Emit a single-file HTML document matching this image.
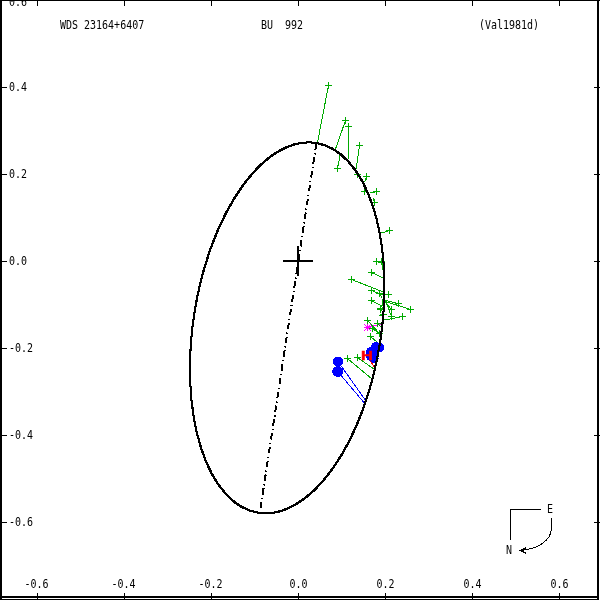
<!DOCTYPE html>
<html lang="en"><head><meta charset="utf-8"><title>WDS 23164+6407 BU 992 orbit</title>
<style>html,body{margin:0;padding:0;background:#fff;overflow:hidden}svg{display:block;will-change:transform}text{font-family:"DejaVu Sans Mono","Liberation Mono",monospace;font-size:10px;fill:#000}</style>
</head><body>
<svg width="600" height="600" viewBox="0 0 600 600" shape-rendering="crispEdges">
<rect x="0" y="0" width="600" height="600" fill="#fff"/>
<g fill="#000">
<rect x="0" y="0" width="2" height="600"/>
<rect x="597" y="0" width="2" height="600"/>
<rect x="0" y="0" width="600" height="1"/>
<rect x="0" y="596" width="599" height="2"/>
<rect x="0" y="599" width="599" height="1"/>
<rect x="37" y="593" width="1" height="7"/>
<rect x="37" y="0" width="1" height="6"/>
<rect x="124" y="593" width="1" height="7"/>
<rect x="124" y="0" width="1" height="6"/>
<rect x="211" y="593" width="1" height="7"/>
<rect x="211" y="0" width="1" height="6"/>
<rect x="298" y="593" width="1" height="7"/>
<rect x="298" y="0" width="1" height="6"/>
<rect x="385" y="593" width="1" height="7"/>
<rect x="385" y="0" width="1" height="6"/>
<rect x="472" y="593" width="1" height="7"/>
<rect x="472" y="0" width="1" height="6"/>
<rect x="559" y="593" width="1" height="7"/>
<rect x="559" y="0" width="1" height="6"/>
<rect x="2" y="87" width="5" height="1"/>
<rect x="594" y="87" width="6" height="1"/>
<rect x="2" y="174" width="5" height="1"/>
<rect x="594" y="174" width="6" height="1"/>
<rect x="2" y="261" width="5" height="1"/>
<rect x="594" y="261" width="6" height="1"/>
<rect x="2" y="348" width="5" height="1"/>
<rect x="594" y="348" width="6" height="1"/>
<rect x="2" y="435" width="5" height="1"/>
<rect x="594" y="435" width="6" height="1"/>
<rect x="2" y="522" width="5" height="1"/>
<rect x="594" y="522" width="6" height="1"/>
</g>
<text transform="translate(60,29) scale(1,1.24)" text-anchor="start" xml:space="preserve">WDS 23164+6407</text>
<text transform="translate(261,29) scale(1,1.24)" text-anchor="start" xml:space="preserve">BU  992</text>
<text transform="translate(479,29) scale(1,1.24)" text-anchor="start" xml:space="preserve">(Val1981d)</text>
<text transform="translate(24.5,588) scale(1,1.24)" text-anchor="start" xml:space="preserve">-0.6</text>
<text transform="translate(111.5,588) scale(1,1.24)" text-anchor="start" xml:space="preserve">-0.4</text>
<text transform="translate(198.5,588) scale(1,1.24)" text-anchor="start" xml:space="preserve">-0.2</text>
<text transform="translate(289.5,588) scale(1,1.24)" text-anchor="start" xml:space="preserve">0.0</text>
<text transform="translate(376.5,588) scale(1,1.24)" text-anchor="start" xml:space="preserve">0.2</text>
<text transform="translate(463.5,588) scale(1,1.24)" text-anchor="start" xml:space="preserve">0.4</text>
<text transform="translate(550.5,588) scale(1,1.24)" text-anchor="start" xml:space="preserve">0.6</text>
<text transform="translate(9,91) scale(1,1.24)" text-anchor="start" xml:space="preserve">0.4</text>
<text transform="translate(9,178) scale(1,1.24)" text-anchor="start" xml:space="preserve">0.2</text>
<text transform="translate(9,265) scale(1,1.24)" text-anchor="start" xml:space="preserve">0.0</text>
<text transform="translate(9,352) scale(1,1.24)" text-anchor="start" xml:space="preserve">-0.2</text>
<text transform="translate(9,439) scale(1,1.24)" text-anchor="start" xml:space="preserve">-0.4</text>
<text transform="translate(9,526) scale(1,1.24)" text-anchor="start" xml:space="preserve">-0.6</text>
<text transform="translate(9,6) scale(1,1.24)" text-anchor="start" xml:space="preserve">0.6</text>
<line x1="316.3" y1="143.5" x2="260.3" y2="509.5" stroke="#000" stroke-width="2" stroke-dasharray="6.5 3.45 1.2 2.8"/>
<rect x="283" y="260" width="30" height="2" fill="#000"/>
<rect x="297" y="246" width="2" height="30" fill="#000"/>
<path d="M364 327.5h7M367.5 324v7M364 324l7 7M371 324l-7 7M366 326.5h3M366 328.5h3M367.5 327.5L382.5 323.5" fill="none" stroke="#ff00ff" stroke-width="1"/>
<path d="M325 85.5h7M328.5 82v7M328.5 85.5L317.5 142.5M342 120.5h7M345.5 117v7M345.5 120.5L335.5 149.0M345 126.5h7M348.5 123v7M348.5 126.5L348.0 160.5M356 145.5h7M359.5 142v7M359.5 145.5L356.0 169.5M334 168.5h7M337.5 165v7M337.5 168.5L340.0 155.5M354 174.5h7M357.5 171v7M363 176.5h7M366.5 173v7M366.5 176.5L364.5 182.5M361 191.5h7M364.5 188v7M364.5 191.5L367.5 191.5M373 191.5h7M376.5 188v7M376.5 191.5L370.5 193.0M371 202.5h7M374.5 199v7M374.5 202.5L373.1 198.1M386 230.5h7M389.5 227v7M389.5 230.5L381.5 233.0M373 261.5h7M376.5 258v7M376.5 261.5L383.5 263.5M378 261.5h7M381.5 258v7M381.5 261.5L383.0 269.5M368 272.5h7M371.5 269v7M371.5 272.5L383.5 278.0M348 279.5h7M351.5 276v7M351.5 279.5L383.0 291.8M368 290.5h7M371.5 287v7M371.5 290.5L383.0 295.0M376 293.5h7M379.5 290v7M379.5 293.5L382.5 298.5M382.5 298.5L382.5 305.5M385 294.5h7M388.5 291v7M388.5 294.5L384.5 294.5M368 300.5h7M371.5 297v7M371.5 300.5L382.5 306.5M377 309.5h7M380.5 306v7M380.5 309.5L383.1 307.0M377 308.5h7M380.5 305v7M380.5 308.5L383.1 313.0M395 303.5h7M398.5 300v7M398.5 303.5L385.5 300.5M407 309.5h7M410.5 306v7M410.5 309.5L385.5 301.5M388 309.5h7M391.5 306v7M391.5 309.5L385.5 302.5M388 316.5h7M391.5 313v7M391.5 316.5L386.0 302.0M399 316.5h7M402.5 313v7M402.5 316.5L384.5 320.0M380 314.5h7M383.5 311v7M383.5 314.5L379.5 315.5M364 320.5h7M367.5 317v7M367.5 320.5L380.0 334.0M374 323.5h7M377.5 320v7M377.5 323.5L381.5 327.5M369 328.5h7M372.5 325v7M372.5 328.5L379.5 333.5M376 333.5h7M379.5 330v7M367 336.5h7M370.5 333v7M370.5 336.5L377.0 342.0M344 358.5h7M347.5 355v7M347.5 358.5L372.5 379.5M354 357.5h7M357.5 354v7M357.5 357.5L374.5 369.5" fill="none" stroke="#00aa00" stroke-width="1"/>
<g fill="#0000ff" stroke="#0000ff" stroke-width="1">
<line x1="338" y1="361.5" x2="366" y2="401"/>
<line x1="337.7" y1="371.5" x2="365.2" y2="404"/>
<circle cx="338" cy="361.5" r="5" stroke="none"/>
<circle cx="337.7" cy="371.5" r="5.4" stroke="none"/>
<circle cx="376" cy="347" r="5" stroke="none"/>
<circle cx="379" cy="347.5" r="5" stroke="none"/>
<circle cx="371" cy="352" r="5" stroke="none"/>
<circle cx="371" cy="356" r="5" stroke="none"/>
<circle cx="373.6" cy="358.5" r="5" stroke="none"/>
<circle cx="374.5" cy="353" r="5" stroke="none"/>
</g>
<line x1="370.5" y1="361" x2="375" y2="368.5" stroke="#ff0000" stroke-width="1"/>
<text transform="translate(361.1,359.8) scale(1.3,1)" style="font-family:'Liberation Sans','DejaVu Sans',sans-serif;font-weight:bold;font-size:12.6px;fill:#ff0000;stroke:#ff0000;stroke-width:0.45px">H</text>
<ellipse cx="0" cy="0" rx="94.0" ry="187.1" transform="translate(286.7,327.35) rotate(8.85)" fill="none" stroke="#000" stroke-width="1"/>
<ellipse cx="0" cy="0" rx="94.0" ry="187.1" transform="translate(287.7,327.35) rotate(8.85)" fill="none" stroke="#000" stroke-width="1"/>
<ellipse cx="0" cy="0" rx="94.0" ry="187.1" transform="translate(286.7,328.35) rotate(8.85)" fill="none" stroke="#000" stroke-width="1"/>
<ellipse cx="0" cy="0" rx="94.0" ry="187.1" transform="translate(287.7,328.35) rotate(8.85)" fill="none" stroke="#000" stroke-width="1"/>
<g fill="none" stroke="#000" stroke-width="1">
<path d="M510.5 539.5V509.5H541"/>
<path d="M551.5 518V528.5C551 540 539 549 520.5 550.5M526.5 547.5L520.5 550.5L526.5 553.5"/>
</g>
<text transform="translate(547,513) scale(1,1.24)" text-anchor="start" xml:space="preserve">E</text>
<text transform="translate(506,554) scale(1,1.24)" text-anchor="start" xml:space="preserve">N</text>
</svg></body></html>
